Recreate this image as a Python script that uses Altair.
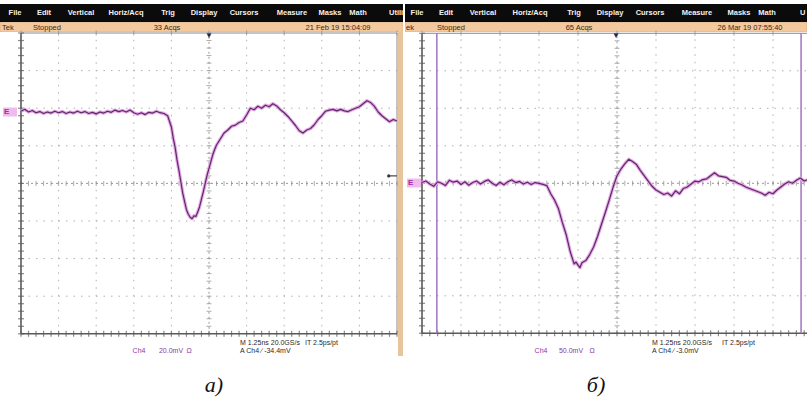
import altair as alt
import pandas as pd
import numpy as np

# ---------------- data (oscilloscope divisions) ----------------
# panel a: time (div) and voltage (div)
a_t = [0.0, 0.1, 0.2, 0.3, 0.4, 0.5, 0.6, 0.7, 0.8, 0.9,
       1.0, 1.1, 1.2, 1.3, 1.4, 1.5, 1.6, 1.7, 1.8, 1.9,
       2.0, 2.1, 2.2, 2.3, 2.4, 2.5, 2.6, 2.7, 2.8, 2.9,
       3.0, 3.1, 3.2, 3.3, 3.4, 3.5, 3.6, 3.7, 3.8, 3.9,
       4.0, 4.05, 4.1, 4.15, 4.2, 4.25, 4.3, 4.35, 4.4, 4.45,
       4.5, 4.55, 4.6, 4.65, 4.7, 4.75, 4.8, 4.85, 4.9, 4.95,
       5.0, 5.05, 5.1, 5.15, 5.2, 5.3, 5.4, 5.5, 5.6, 5.7,
       5.8, 5.9, 6.0, 6.1, 6.2, 6.3, 6.4, 6.5, 6.6, 6.7,
       6.8, 6.9, 7.0, 7.1, 7.2, 7.3, 7.4, 7.5, 7.6, 7.7,
       7.8, 7.9, 8.0, 8.1, 8.2, 8.3, 8.4, 8.5, 8.6, 8.7,
       8.8, 8.9, 9.0, 9.1, 9.2, 9.3, 9.4, 9.5, 9.6, 9.7,
       9.8, 9.9, 10.0]
a_v = [1.92, 1.97, 1.90, 1.94, 1.88, 1.91, 1.86, 1.90, 1.87, 1.92,
       1.88, 1.91, 1.86, 1.90, 1.87, 1.92, 1.88, 1.91, 1.86, 1.89,
       1.85, 1.90, 1.87, 1.92, 1.89, 1.95, 1.91, 1.94, 1.90, 1.95,
       1.88, 1.84, 1.88, 1.83, 1.89, 1.87, 1.92, 1.88, 1.86, 1.80,
       1.50, 1.20, 0.95, 0.62, 0.35, 0.05, -0.25, -0.48, -0.70, -0.82,
       -0.90, -0.94, -0.86, -0.88, -0.76, -0.62, -0.42, -0.22, 0.00, 0.22,
       0.40, 0.58, 0.76, 0.90, 1.02, 1.18, 1.34, 1.42, 1.52, 1.55,
       1.62, 1.66, 1.82, 2.00, 1.96, 2.05, 2.00, 2.08, 2.04, 2.12,
       2.06, 1.96, 1.88, 1.78, 1.66, 1.54, 1.40, 1.34, 1.42, 1.46,
       1.56, 1.70, 1.80, 1.92, 1.95, 1.97, 1.93, 1.97, 1.93, 1.91,
       1.96, 2.00, 2.04, 2.12, 2.20, 2.15, 2.05, 1.90, 1.80, 1.72,
       1.64, 1.70, 1.66]

# panel b
b_t = [0.0, 0.1, 0.2, 0.3, 0.4, 0.5, 0.6, 0.7, 0.8, 0.9,
       1.0, 1.1, 1.2, 1.3, 1.4, 1.5, 1.6, 1.7, 1.8, 1.9,
       2.0, 2.1, 2.2, 2.3, 2.4, 2.5, 2.6, 2.7, 2.8, 2.9,
       3.0, 3.1, 3.2, 3.3, 3.4, 3.5, 3.6, 3.7, 3.8, 3.9,
       3.95, 4.0, 4.05, 4.1, 4.2, 4.3, 4.4, 4.5, 4.6, 4.7,
       4.8, 4.9, 5.0, 5.1, 5.2, 5.3, 5.4, 5.5, 5.6, 5.7,
       5.8, 5.9, 6.0, 6.1, 6.2, 6.3, 6.4, 6.5, 6.6, 6.7,
       6.8, 6.9, 7.0, 7.1, 7.2, 7.3, 7.4, 7.5, 7.6, 7.7,
       7.8, 7.9, 8.0, 8.1, 8.2, 8.3, 8.4, 8.5, 8.6, 8.7,
       8.8, 8.9, 9.0, 9.1, 9.2, 9.3, 9.4, 9.5, 9.6, 9.7,
       9.8, 9.9]
b_v = [0.02, 0.06, -0.02, -0.08, 0.04, 0.00, -0.06, 0.08, 0.03, 0.06,
       -0.03, 0.04, -0.05, 0.02, 0.06, -0.02, 0.05, 0.09, 0.00, -0.06,
       0.03, -0.04, 0.04, 0.09, 0.02, 0.05, -0.02, 0.03, -0.03, 0.02,
       0.00, -0.03, -0.06, -0.28, -0.45, -0.68, -1.05, -1.38, -1.82, -2.15,
       -2.10, -2.18, -2.25, -2.12, -2.06, -1.90, -1.70, -1.42, -1.10, -0.78,
       -0.45, -0.10, 0.20, 0.38, 0.52, 0.64, 0.58, 0.50, 0.34, 0.20,
       0.06, -0.08, -0.18, -0.24, -0.30, -0.26, -0.34, -0.20, -0.28, -0.14,
       -0.10, -0.02, 0.06, 0.04, 0.10, 0.12, 0.20, 0.28, 0.20, 0.18,
       0.16, 0.08, 0.06, 0.00, -0.04, -0.10, -0.14, -0.18, -0.22, -0.26,
       -0.32, -0.24, -0.28, -0.18, -0.10, -0.02, 0.04, 0.00, 0.08, 0.14,
       0.06, 0.10]

b_cursors = [0.38, 9.72]
a_trigger_level = [0.2]

menu_items_a = ["File", "Edit", "Vertical", "Horiz/Acq", "Trig", "Display",
                "Cursors", "Measure", "Masks", "Math", "Utili"]
menu_items_b = ["File", "Edit", "Vertical", "Horiz/Acq", "Trig", "Display",
                "Cursors", "Measure", "Masks", "Math", "U"]
status_a = ["Tek", "Stopped", "33 Acqs", "21 Feb 19 15:04:09"]
status_b = ["ek", "Stopped", "65 Acqs", "26 Mar 19 07:55:40"]
readout_a = ["Ch4", "20.0mV", "\u03a9", "M 1.25ns 20.0GS/s", "IT 2.5ps/pt", "A  Ch4  \u2215  -34.4mV"]
readout_b = ["Ch4", "50.0mV", "\u03a9", "M 1.25ns 20.0GS/s", "IT 2.5ps/pt", "A  Ch4  \u2215  -3.0mV"]
captions = ["\u0430)", "\u0431)"]

# ---------------- layout (pixels, local to each panel) ----------------
LAYOUT_A = dict(W=403, x0px=21, pxx=37.6, cy=183.4, pxy=37.6,
                menu_x=[15, 44, 81, 126, 168, 204, 244, 292, 330, 358, 389],
                status=[(2, "left"), (33, "left"), (167, "center"), (338, "center")],
                readout=[(139, 351, "center", "p"), (171, 351, "center", "p"), (189, 351, "center", "p"),
                         (240, 343, "left", "d"), (305, 343, "left", "d"), (240, 351, "left", "d")],
                caption_x=214, marker_x=209, emark_y=112, emark_x=3)
LAYOUT_B = dict(W=402, x0px=17, pxx=39.0, cy=183.3, pxy=37.5,
                menu_x=[12, 41, 78, 125, 169, 205, 245, 292, 334, 362, 395],
                status=[(1, "left"), (32, "left"), (174, "center"), (345, "center")],
                readout=[(136, 351, "center", "p"), (166, 351, "center", "p"), (187, 351, "center", "p"),
                         (247, 343, "left", "d"), (317, 343, "left", "d"), (247, 351, "left", "d")],
                caption_x=191, marker_x=211, emark_y=183, emark_x=2)

H = 413
TRACE_HALO = "#e7a6e7"
TRACE_CORE = "#5b2a66"
PURPLE_TXT = "#8b3a9c"
DARK_TXT = "#2a2a2a"
GRID = "#b0b0b0"
FRAME = "#5a5a5a"


def one():
    return pd.DataFrame({"k": [0]})


def text_layer(txt, x, y, align="center", color="#000", size=8, weight="normal",
               font="Liberation Sans", style="normal", baseline="middle"):
    return alt.Chart(pd.DataFrame({"t": [txt]})).mark_text(
        align=align, baseline=baseline, color=color, fontSize=size, fontWeight=weight,
        font=font, fontStyle=style, clip=True
    ).encode(text="t:N", x=alt.value(x), y=alt.value(y))


def panel(t, v, L, menu, status, readout, caption, cursors=None, trig=None):
    W = L["W"]
    x0 = -L["x0px"] / L["pxx"]
    x1 = x0 + W / L["pxx"]
    ytop = L["cy"] / L["pxy"]
    ybot = ytop - H / L["pxy"]
    xs = alt.Scale(domain=[x0, x1], nice=False, zero=False)
    ys = alt.Scale(domain=[ybot, ytop], nice=False, zero=False)

    def X(f):
        return alt.X(f, type="quantitative", scale=xs, axis=None)

    def Y(f):
        return alt.Y(f, type="quantitative", scale=ys, axis=None)

    layers = []
    # menu bar and status bar
    layers.append(alt.Chart(one()).mark_rect(color="#0b0b0b", clip=True).encode(
        x=alt.value(0), x2=alt.value(W), y=alt.value(4), y2=alt.value(22)))
    layers.append(alt.Chart(one()).mark_rect(color="#f3c99d", stroke="#d9a878", strokeWidth=0.6, clip=True).encode(
        x=alt.value(0), x2=alt.value(W), y=alt.value(22.5), y2=alt.value(31.5)))

    # grid
    vg = pd.DataFrame({"v": [1, 2, 3, 4, 6, 7, 8, 9], "lo": -4, "hi": 4})
    hg = pd.DataFrame({"v": [-3, -2, -1, 1, 2, 3], "lo": 0, "hi": 10})
    layers.append(alt.Chart(vg).mark_rule(color=GRID, strokeWidth=1, strokeDash=[1.5, 6], clip=True).encode(
        x=X("v"), y=Y("lo"), y2="hi"))
    layers.append(alt.Chart(hg).mark_rule(color=GRID, strokeWidth=1, strokeDash=[1.5, 6], clip=True).encode(
        y=Y("v"), x=X("lo"), x2="hi"))
    # centre lines
    layers.append(alt.Chart(pd.DataFrame({"v": [5], "lo": -4, "hi": 4})).mark_rule(
        color="#9a9a9a", strokeWidth=1, strokeDash=[2, 3], clip=True).encode(x=X("v"), y=Y("lo"), y2="hi"))
    layers.append(alt.Chart(pd.DataFrame({"v": [0], "lo": 0, "hi": 10})).mark_rule(
        color="#9a9a9a", strokeWidth=1, strokeDash=[2, 3], clip=True).encode(y=Y("v"), x=X("lo"), x2="hi"))
    minor_x = np.round(np.arange(0, 10.001, 0.2), 2)
    minor_y = np.round(np.arange(-4, 4.001, 0.2), 2)
    layers.append(alt.Chart(pd.DataFrame({"t": minor_x, "c": 0})).mark_tick(
        orient="vertical", size=5, thickness=1, color="#8a8a8a", clip=True).encode(x=X("t"), y=Y("c")))
    layers.append(alt.Chart(pd.DataFrame({"t": minor_y, "c": 5})).mark_tick(
        orient="horizontal", size=5, thickness=1, color="#8a8a8a", clip=True).encode(y=Y("t"), x=X("c")))

    # frame
    layers.append(alt.Chart(pd.DataFrame({"v": [10], "lo": -4, "hi": 4})).mark_rule(
        color="#8a8a8a", strokeWidth=1, clip=True).encode(x=X("v"), y=Y("lo"), y2="hi"))
    layers.append(alt.Chart(pd.DataFrame({"v": [4], "lo": 0, "hi": 10})).mark_rule(
        color="#8a8a8a", strokeWidth=1, clip=True).encode(y=Y("v"), x=X("lo"), x2="hi"))
    layers.append(alt.Chart(pd.DataFrame({"v": [0], "lo": -4, "hi": 4})).mark_rule(
        color=FRAME, strokeWidth=1.6, clip=True).encode(x=X("v"), y=Y("lo"), y2="hi"))
    layers.append(alt.Chart(pd.DataFrame({"v": [-4], "lo": 0, "hi": 10})).mark_rule(
        color=FRAME, strokeWidth=1.6, clip=True).encode(y=Y("v"), x=X("lo"), x2="hi"))
    layers.append(alt.Chart(pd.DataFrame({"t": minor_x, "c": -4})).mark_tick(
        orient="vertical", size=6, thickness=1.2, color=FRAME, clip=True).encode(x=X("t"), y=Y("c")))
    layers.append(alt.Chart(pd.DataFrame({"t": minor_y, "c": 0})).mark_tick(
        orient="horizontal", size=6, thickness=1.2, color=FRAME, clip=True).encode(y=Y("t"), x=X("c")))
    layers.append(alt.Chart(pd.DataFrame({"t": list(range(0, 11)), "c": 4})).mark_tick(
        orient="vertical", size=5, thickness=1, color="#8a8a8a", clip=True).encode(x=X("t"), y=Y("c")))

    # cursors
    if cursors is not None:
        layers.append(alt.Chart(pd.DataFrame({"v": cursors, "lo": -4, "hi": 4})).mark_rule(
            color="#a77cc4", strokeWidth=1.6, clip=True).encode(x=X("v"), y=Y("lo"), y2="hi"))

    # trace
    df = pd.DataFrame({"t": t, "v": v})
    layers.append(alt.Chart(df).mark_line(color=TRACE_HALO, strokeWidth=3.4, strokeJoin="round",
                                          clip=True).encode(x=X("t"), y=Y("v")))
    layers.append(alt.Chart(df).mark_line(color=TRACE_CORE, strokeWidth=1.2, strokeJoin="round",
                                          clip=True).encode(x=X("t"), y=Y("v")))

    # trigger level marker
    if trig is not None:
        layers.append(alt.Chart(pd.DataFrame({"v": trig, "a": 9.8, "b": 10.0})).mark_rule(
            color="#444", strokeWidth=1.2, clip=True).encode(y=Y("v"), x=X("a"), x2="b"))
        layers.append(alt.Chart(pd.DataFrame({"v": trig, "a": 9.78})).mark_point(
            filled=True, size=10, color="#333", opacity=1, clip=True).encode(y=Y("v"), x=X("a")))

    # channel marker "E"
    layers.append(alt.Chart(one()).mark_rect(color="#f2b9f0", clip=True).encode(
        x=alt.value(L["emark_x"]), x2=alt.value(L["emark_x"] + 14),
        y=alt.value(L["emark_y"] - 4.5), y2=alt.value(L["emark_y"] + 4.5)))
    layers.append(text_layer("E", L["emark_x"] + 1, L["emark_y"], align="left", color="#9b2fa0", size=8,
                             weight="bold"))
    # trigger position marker
    layers.append(text_layer("\u25bc", L["marker_x"], 36, color="#1e2a44", size=8))

    # menu texts
    for i, item in enumerate(menu):
        al = "left" if i == len(menu) - 1 else "center"
        layers.append(text_layer(item, L["menu_x"][i], 13, align=al, color="#f2f2f2", size=7.5,
                                 weight="bold", font="Liberation Sans Narrow, Liberation Sans"))
    # status texts
    for s, (px, al) in zip(status, L["status"]):
        layers.append(text_layer(s, px, 27.5, align=al, color="#3a2a1a", size=7.5,
                                 font="Liberation Sans Narrow, Liberation Sans"))
    # readouts
    for s, (px, py, al, c) in zip(readout, L["readout"]):
        layers.append(text_layer(s, px, py, align=al, color=PURPLE_TXT if c == "p" else DARK_TXT,
                                 size=7, font="Liberation Sans Narrow, Liberation Sans"))
    # caption
    layers.append(text_layer(caption, L["caption_x"], 385, color="#111", size=22,
                             font="Liberation Serif", style="italic"))

    return alt.layer(*layers).properties(width=W, height=H)


left = panel(a_t, a_v, LAYOUT_A, menu_items_a, status_a, readout_a, captions[0], trig=a_trigger_level)
# strip at the right edge of the left screenshot
strip = alt.Chart(one()).mark_rect(color="#e7c49c", clip=True).encode(
    x=alt.value(398), x2=alt.value(403), y=alt.value(31), y2=alt.value(356))
left = alt.layer(left, strip).properties(width=403, height=H)

right = panel(b_t, b_v, LAYOUT_B, menu_items_b, status_b, readout_b, captions[1], cursors=b_cursors)

chart = alt.hconcat(left, right, spacing=2, bounds="flush").properties(
    padding=0, background="white"
).configure_view(stroke=None)

chart.save("out.html", embed_options={"renderer": "svg", "actions": False})
